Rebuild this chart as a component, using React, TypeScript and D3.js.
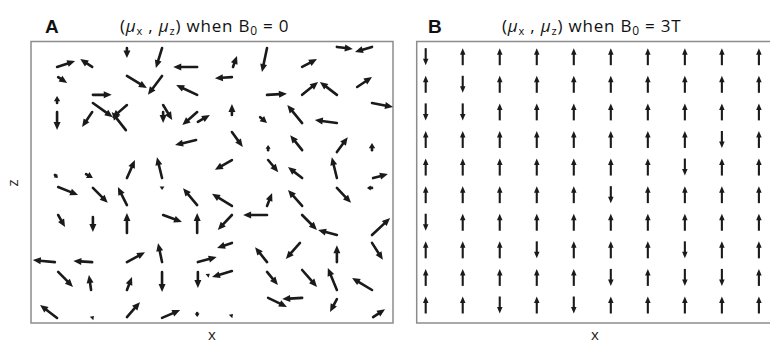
import * as d3 from "d3";

// Panel A: random moments (no field). tail position (x, z) and components (mx, mz)
const aX = [0.72, 1.69, 0.75, 2.65, 3.62, 4.59, 2.65, 3.62, 4.59, 1.71, 1.71, 2.65, 3.65, 4.61, 0.72, 0.72, 1.69, 2.62, 3.65, 4.59, 4.56, 2.65, 3.62,
  8.45, 9.42, 5.58, 6.52, 7.49, 5.55, 7.49, 8.45, 9.01, 6.52, 5.55, 7.49, 8.45, 9.42, 6.33, 5.55, 6.55, 7.49, 8.45, 9.42, 5.55, 6.55, 7.49, 8.45, 9.45,
  0.66, 1.52, 0.75, 1.71, 2.65, 3.62, 4.59, 0.75, 1.71, 2.65, 3.65, 4.59, 0.66, 1.69, 2.65, 3.62, 4.61, 0.75, 1.66, 2.65, 3.62, 4.61, 0.72, 1.71, 2.65, 3.62, 4.59,
  9.42, 5.55, 6.52, 7.49, 8.45, 6.52, 5.55, 7.49, 8.45, 9.42, 5.55, 6.52, 7.43, 8.45, 9.42, 5.55, 6.52, 7.49, 8.45, 9.42, 4.89, 6.55, 7.49, 8.45, 9.45, 5.55];
const aZ = [9.08, 9.08, 8.72, 9.75, 9.75, 9.08, 8.76, 8.76, 8.09, 8.09, 7.8, 7.73, 7.73, 7.13, 7.8, 7.48, 7.48, 6.84, 7.48, 7.48, 6.49, 5.14, 5.14,
  9.79, 9.79, 9.08, 9.75, 9.08, 8.72, 8.09, 8.09, 8.37, 8.09, 7.38, 7.09, 7.09, 7.8, 7.3, 6.77, 6.13, 6.13, 6.06, 6.13, 5.78, 5.78, 5.14, 5.14, 5.14,
  5.25, 5.28, 4.82, 4.79, 4.18, 4.79, 4.18, 3.83, 3.76, 3.19, 3.83, 3.19, 2.16, 2.16, 2.16, 2.16, 2.16, 1.81, 1.17, 1.17, 1.81, 1.81, 0.18, 0.21, 0.21, 0.18, 0.35,
  4.79, 4.15, 4.15, 4.15, 4.79, 3.83, 3.83, 3.83, 3.12, 3.12, 2.84, 2.16, 2.84, 2.16, 2.84, 1.84, 1.81, 1.88, 1.17, 1.17, 1.7, 0.89, 0.89, 0.85, 0.21, 0.28];
const aMx = [0.5, -0.33, 0.25, 0, -0.17, -0.66, 0.55, -0.39, -0.58, 0.52, 0.55, -0.41, 0.25, 0.33, 0, 0, -0.28, -0.39, 0, -0.41, -0.58, 0.22, -0.14,
  0.44, -0.47, 0.11, -0.14, 0.41, -0.47, 0.44, -0.47, 0.41, 0.55, 0, -0.41, -0.61, 0.58, 0.19, 0.3, 0, -0.33, 0.3, 0, -0.47, 0.28, -0.39, -0.14, 0.41,
  0.08, 0.19, 0.55, 0.41, -0.25, 0, -0.39, 0.19, 0, 0, 0.52, 0, -0.61, -0.52, 0.5, -0.11, 0.52, 0.41, -0.06, 0.14, 0, 0, -0.47, 0.03, 0.36, 0.5, 0,
  -0.14, -0.55, 0.14, -0.39, 0.39, -0.66, -0.39, 0.41, -0.52, 0.5, -0.41, -0.33, -0.39, 0, 0.3, -0.55, 0.3, 0.41, -0.25, -0.55, 0.05, 0.52, -0.55, -0.19, 0.33, 0.03];
const aMz = [0.21, 0.28, -0.21, -0.35, -0.71, 0, -0.43, -0.67, 0.35, 0, -0.5, -0.46, -0.53, 0.25, 0.25, -0.64, -0.53, 0.64, -0.39, -0.46, -0.18, 0.64, 0.74,
  -0.07, -0.18, 0.39, -0.85, 0.28, -0.04, 0.46, 0.46, 0.35, 0.04, 0.39, 0.64, 0.11, -0.14, -0.21, -0.53, 0.18, 0.53, 0.53, 0.25, -0.35, -0.43, 0.39, 0.74, 0.14,
  -0.11, -0.14, -0.28, -0.53, 0.64, -0.07, 0.6, -0.43, -0.53, 0.71, -0.25, 0.71, 0.07, 0.04, 0.35, 0.67, 0.18, -0.53, 0.53, 0.46, -0.71, -0.57, 0.46, 0.04, 0.53, 0.28, -0.14,
  0, 0.43, 0.46, 0.57, -0.53, 0, -0.53, -0.53, 0.18, 0.6, -0.18, 0.53, -0.57, 0.6, -0.6, -0.21, -0.46, -0.6, 0.78, 0.43, 0.05, -0.32, -0.04, -0.46, 0.28, 0.04];

// Panel B: aligned with B0 = 3T, +1 = up (parallel), -1 = down (anti-parallel), rows top to bottom
const bCols = d3.range(10);
const bRows = d3.range(10);
const bDir = [
  [-1, 1, 1, 1, 1, 1, 1, 1, 1, 1],
  [1, -1, 1, 1, 1, 1, 1, 1, 1, 1],
  [-1, -1, 1, 1, 1, 1, 1, 1, 1, 1],
  [1, 1, 1, 1, 1, 1, 1, 1, -1, 1],
  [1, 1, 1, 1, 1, 1, 1, -1, 1, 1],
  [1, 1, 1, 1, 1, -1, 1, 1, 1, 1],
  [-1, 1, 1, 1, 1, 1, 1, 1, 1, 1],
  [1, 1, 1, -1, 1, 1, 1, -1, 1, 1],
  [1, 1, 1, 1, 1, -1, 1, -1, -1, 1],
  [1, 1, -1, 1, -1, 1, 1, 1, 1, 1],
];

const INK = "#1a1a1a";

function arrow(x1: number, y1: number, x2: number, y2: number, hl: number, hw: number) {
  const dx = x2 - x1, dy = y2 - y1;
  const L = Math.hypot(dx, dy) || 1;
  const ux = dx / L, uy = dy / L;
  const h = Math.min(hl, Math.max(L * 0.75, 3.5));
  const w = (hw / 2) * Math.min(1, h / hl + 0.25);
  const bx = x2 - ux * h, by = y2 - uy * h;
  const head = `M${x2},${y2}L${bx - uy * w},${by + ux * w}L${bx + uy * w},${by - ux * w}Z`;
  const line = L > h ? `M${x1},${y1}L${bx + ux},${by + uy}` : null;
  return { head, line };
}

const Title = ({ x, field }: { x: number; field: string }) => (
  <text x={x} y={32} fontFamily="'Open Sans', sans-serif" fontSize={17} letterSpacing={0.8} fill="#111">
    (<tspan fontStyle="italic">μ</tspan>
    <tspan fontSize={11} dy={3}>x</tspan>
    <tspan dy={-3}> , </tspan>
    <tspan fontStyle="italic">μ</tspan>
    <tspan fontSize={11} dy={3}>z</tspan>
    <tspan dy={-3}>) when B</tspan>
    <tspan fontSize={12} dy={3}>0</tspan>
    <tspan dy={-3}>{` = ${field}`}</tspan>
  </text>
);

const App = () => {
  // panel A scales
  const ax = d3.scaleLinear().domain([0, 10]).range([31, 393]);
  const az = d3.scaleLinear().domain([0, 10]).range([323, 41]);
  // panel B scales
  const bx = d3.scaleLinear().domain([0, 9]).range([425.7, 758.9]);
  const by = d3.scaleLinear().domain([0, 9]).range([56.7, 305]);
  const bLen = 17;

  const aArrows = aX.map((x, i) => {
    const x1 = ax(x), y1 = az(aZ[i]);
    const x2 = ax(x + aMx[i]), y2 = az(aZ[i] + aMz[i]);
    return arrow(x1, y1, x2, y2, 8, 7);
  });

  const bArrows: { head: string; line: string | null }[] = [];
  bRows.forEach((r) => {
    bCols.forEach((c) => {
      const d = bDir[r][c];
      const cx = bx(c), cy = by(r);
      bArrows.push(arrow(cx, cy + (d * bLen) / 2, cx, cy - (d * bLen) / 2, 6.5, 5.5));
    });
  });

  const font = "'Open Sans', sans-serif";

  return (
    <svg width={770} height={343} style={{ position: "absolute", left: 0, top: 0, background: "#fff" }}>
      {/* frames */}
      <rect x={31} y={41.5} width={362} height={281.5} fill="none" stroke="#8c8c8c" strokeWidth={1.5} />
      <rect x={416.7} y={41.5} width={357} height={281.5} fill="none" stroke="#8c8c8c" strokeWidth={1.5} />

      {/* panel A arrows */}
      <g fill={INK} stroke={INK} strokeLinecap="round">
        {aArrows.map((a, i) => (
          <g key={i}>
            {a.line && <path d={a.line} strokeWidth={2.6} fill="none" />}
            <path d={a.head} stroke="none" />
          </g>
        ))}
      </g>

      {/* panel B arrows */}
      <g fill={INK} stroke={INK}>
        {bArrows.map((a, i) => (
          <g key={i}>
            {a.line && <path d={a.line} strokeWidth={2.1} fill="none" />}
            <path d={a.head} stroke="none" />
          </g>
        ))}
      </g>

      {/* panel labels and titles */}
      <text x={45} y={33} fontFamily="Arial, 'Liberation Sans', sans-serif" fontWeight="bold" fontSize={19} fill="#111">A</text>
      <text x={428} y={33} fontFamily="Arial, 'Liberation Sans', sans-serif" fontWeight="bold" fontSize={19} fill="#111">B</text>
      <Title x={120} field="0" />
      <Title x={502} field="3T" />

      {/* axis labels */}
      <text x={212} y={340} textAnchor="middle" fontFamily={font} fontSize={15} fill="#222">x</text>
      <text x={595} y={340} textAnchor="middle" fontFamily={font} fontSize={15} fill="#222">x</text>
      <text transform="translate(18,183) rotate(-90)" textAnchor="middle" fontFamily={font} fontSize={15} fill="#222">z</text>
    </svg>
  );
};

export default App;
